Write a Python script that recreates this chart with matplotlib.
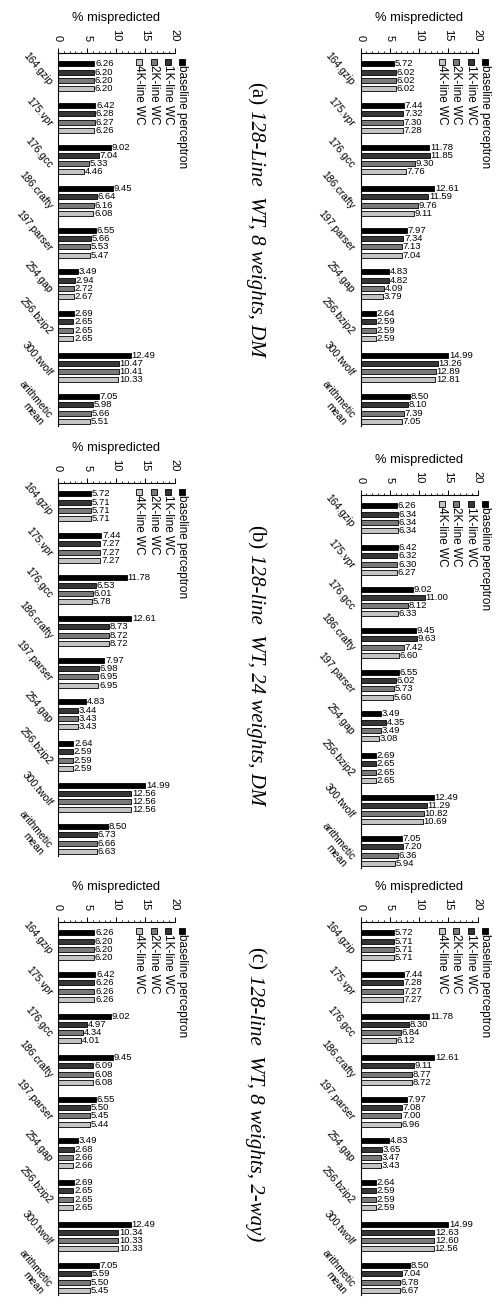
import matplotlib
matplotlib.use("Agg")
import matplotlib.pyplot as plt
from matplotlib.ticker import MultipleLocator, NullLocator
from matplotlib.transforms import blended_transform_factory, ScaledTranslation
import numpy as np

plt.rcParams['font.family'] = ['Liberation Sans', 'DejaVu Sans']

categories = ["164.gzip", "175.vpr", "176.gcc", "186.crafty", "197.parser",
              "254.gap", "256.bzip2", "300.twolf", "arithmetic\nmean"]
series_names = ["baseline perceptron", "1K-line WC", "2K-line WC", "4K-line WC"]
xticks = [0, 5, 10, 15, 20]
axis_label = "% mispredicted"

# Row 1, right panel
r1_right_baseline = [5.72, 7.44, 11.78, 12.61, 7.97, 4.83, 2.64, 14.99, 8.50]
r1_right_1k = [6.02, 7.32, 11.85, 11.59, 7.34, 4.82, 2.59, 13.26, 8.10]
r1_right_2k = [6.02, 7.30, 9.30, 9.76, 7.13, 4.09, 2.59, 12.89, 7.39]
r1_right_4k = [6.02, 7.28, 7.76, 9.11, 7.04, 3.79, 2.59, 12.81, 7.05]

# Row 1, left panel
r1_left_baseline = [6.26, 6.42, 9.02, 9.45, 6.55, 3.49, 2.69, 12.49, 7.05]
r1_left_1k = [6.20, 6.28, 7.04, 6.64, 5.66, 2.94, 2.65, 10.47, 5.98]
r1_left_2k = [6.20, 6.27, 5.33, 6.16, 5.53, 2.72, 2.65, 10.41, 5.66]
r1_left_4k = [6.20, 6.26, 4.46, 6.08, 5.47, 2.67, 2.65, 10.33, 5.51]

# Row 2, right panel
r2_right_baseline = [6.26, 6.42, 9.02, 9.45, 6.55, 3.49, 2.69, 12.49, 7.05]
r2_right_1k = [6.34, 6.32, 11.00, 9.63, 6.02, 4.35, 2.65, 11.29, 7.20]
r2_right_2k = [6.34, 6.30, 8.12, 7.42, 5.73, 3.49, 2.65, 10.82, 6.36]
r2_right_4k = [6.34, 6.27, 6.33, 6.60, 5.60, 3.08, 2.65, 10.69, 5.94]

# Row 2, left panel
r2_left_baseline = [5.72, 7.44, 11.78, 12.61, 7.97, 4.83, 2.64, 14.99, 8.50]
r2_left_1k = [5.71, 7.27, 6.53, 8.73, 6.98, 3.44, 2.59, 12.56, 6.73]
r2_left_2k = [5.71, 7.27, 6.01, 8.72, 6.95, 3.43, 2.59, 12.56, 6.66]
r2_left_4k = [5.71, 7.27, 5.78, 8.72, 6.95, 3.43, 2.59, 12.56, 6.63]

# Row 3, right panel
r3_right_baseline = [5.72, 7.44, 11.78, 12.61, 7.97, 4.83, 2.64, 14.99, 8.50]
r3_right_1k = [5.71, 7.28, 8.30, 9.11, 7.08, 3.65, 2.59, 12.63, 7.04]
r3_right_2k = [5.71, 7.27, 6.84, 8.77, 7.00, 3.47, 2.59, 12.60, 6.78]
r3_right_4k = [5.71, 7.27, 6.12, 8.72, 6.96, 3.43, 2.59, 12.56, 6.67]

# Row 3, left panel
r3_left_baseline = [6.26, 6.42, 9.02, 9.45, 6.55, 3.49, 2.69, 12.49, 7.05]
r3_left_1k = [6.20, 6.26, 4.97, 6.09, 5.50, 2.68, 2.65, 10.34, 5.59]
r3_left_2k = [6.20, 6.26, 4.34, 6.08, 5.45, 2.66, 2.65, 10.33, 5.50]
r3_left_4k = [6.20, 6.26, 4.01, 6.08, 5.44, 2.66, 2.65, 10.33, 5.45]

caption_tags = ["(a)", "(b)", "(c)"]
caption_texts = ["128-Line  WT, 8 weights, DM",
                 "128-line  WT, 24 weights, DM",
                 "128-line  WT, 8 weights, 2-way)"]

colors = ["#000000", "#363636", "#7a7a7a", "#c4c4c4"]

W, H = 496, 1310
fig = plt.figure(figsize=(W / 100, H / 100), dpi=100)
fig.patch.set_facecolor("white")

YTOP, YBOT = -0.56, 8.40
PITCH = 41.6
AX_H = (YBOT - YTOP) * PITCH


def make_axes(x0, spine_y, width):
    return fig.add_axes([x0 / W, 1 - (spine_y + AX_H) / H, width / W, AX_H / H])


def draw_panel(ax, series):
    y = np.arange(len(categories))
    offsets = [-0.3, -0.1, 0.1, 0.3]
    for vals, off, col in zip(series, offsets, colors):
        bars = ax.barh(y + off, vals, height=0.12, color=col,
                       edgecolor="black", linewidth=0.6)
        ax.bar_label(bars, fmt="%.2f", padding=0.5, fontsize=6.8)
    ax.set_xlim(0, 20)
    ax.set_ylim(YBOT, YTOP)
    for s in ("right", "bottom"):
        ax.spines[s].set_visible(False)
    for s in ("left", "top"):
        ax.spines[s].set_linewidth(0.8)
    ax.xaxis.tick_top()
    ax.xaxis.set_label_position("top")
    ax.set_xticks(xticks)
    ax.xaxis.set_minor_locator(MultipleLocator(1))
    ax.tick_params(axis="x", which="major", direction="out", length=3.6,
                   width=0.7, pad=5, labelsize=8, labelrotation=-90)
    ax.tick_params(axis="x", which="minor", direction="out", length=1.8, width=0.6)
    ax.yaxis.set_major_locator(NullLocator())
    # category labels, rotated like the source page
    trans = blended_transform_factory(ax.transAxes, ax.transData) + \
        ScaledTranslation(-4 / 100, -4 / 100, fig.dpi_scale_trans)
    for yi, name in zip(y, categories):
        ax.text(0, yi, name, transform=trans, rotation=-50, rotation_mode="anchor",
                ha="right", va="top", multialignment="right", fontsize=7.5,
                linespacing=1.15, clip_on=False)
    ax.set_xlabel(axis_label, fontsize=9.3, labelpad=5.5)
    # rotated legend drawn by hand
    leg_x = [21.35, 18.85, 16.4, 13.95]
    for name, col, lx in zip(series_names, colors, leg_x):
        ax.plot([lx], [YTOP + 0.215], marker="s", ms=3.8, mfc=col, mec="black",
                mew=0.6, linestyle="none", clip_on=False)
        ax.text(lx, YTOP + 0.30, name, rotation=-90, ha="center", va="top",
                fontsize=8.5, clip_on=False)


panels = [
    ((360.5, 53, 117), [r1_right_baseline, r1_right_1k, r1_right_2k, r1_right_4k]),
    ((58, 53, 116.5), [r1_left_baseline, r1_left_1k, r1_left_2k, r1_left_4k]),
    ((360.5, 495, 117), [r2_right_baseline, r2_right_1k, r2_right_2k, r2_right_4k]),
    ((58, 483, 116.5), [r2_left_baseline, r2_left_1k, r2_left_2k, r2_left_4k]),
    ((360.5, 922, 117), [r3_right_baseline, r3_right_1k, r3_right_2k, r3_right_4k]),
    ((58, 922, 116.5), [r3_left_baseline, r3_left_1k, r3_left_2k, r3_left_4k]),
]
for geom, series in panels:
    ax = make_axes(*geom)
    draw_panel(ax, series)

# captions (rotated, upright tag followed by italic title)
caption_starts = [82, 525, 947]
CAP_X = 255
fig.canvas.draw()
renderer = fig.canvas.get_renderer()
for tag, txt, ys in zip(caption_tags, caption_texts, caption_starts):
    t1 = fig.text(CAP_X / W, 1 - ys / H, tag, rotation=-90, ha="center", va="top",
                  fontfamily="Liberation Serif", fontsize=15)
    bb = t1.get_window_extent(renderer)
    gap = 15 * 0.25 * 100 / 72
    fig.text(CAP_X / W, (bb.y0 - gap) / H, txt, rotation=-90, ha="center", va="top",
             fontfamily="Liberation Serif", fontstyle="italic", fontsize=15)

fig.savefig("out.png", dpi=100, facecolor="white")
